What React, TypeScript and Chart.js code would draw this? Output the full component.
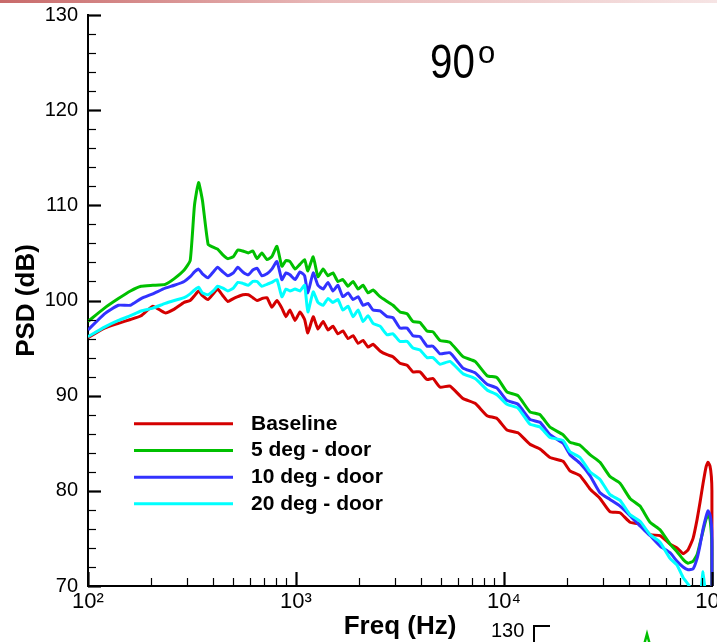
import React, { useEffect, useRef } from 'react';
import { Chart, registerables } from 'chart.js';

Chart.register(...registerables);

// ---------- data ----------
const freqHz = [
  100, 120, 140, 160, 180, 205, 235, 260, 290, 310,
  325, 340, 355, 378, 400, 420, 445, 470, 500, 525,
  555, 590, 620, 650, 685, 725, 765, 810, 855, 895,
  935, 990, 1045, 1100, 1140, 1210, 1275, 1350, 1425, 1505,
  1590, 1680, 1780, 1880, 1990, 2100, 2220, 2345, 2535, 2740,
  2925, 3160, 3420, 3650, 3945, 4265, 4555, 4925, 5500, 6350,
  7260, 8290, 9250, 10330, 11670, 13330, 14900, 16640, 19220, 20760,
  23190, 25900, 28940, 32330, 36120, 40350, 45080, 50360, 56260, 62840,
  67900, 72600, 76700, 81100, 84800, 87600, 90600, 93600, 95700, 97800,
  99300, 99900, 100000,
];

const baselineDb = [
  96.1, 97.1, 97.6, 98.0, 98.4, 99.4, 98.7, 99.1, 99.8, 100.0,
  100.5, 101.0, 100.5, 100.1, 100.7, 101.2, 100.5, 99.9, 100.2, 100.4,
  100.6, 100.6, 100.3, 100.0, 100.2, 100.3, 99.3, 100.0, 99.2, 98.3,
  99.0, 97.9, 98.8, 98.0, 96.6, 98.3, 97.0, 97.8, 96.9, 97.3,
  96.5, 96.8, 96.0, 96.3, 95.5, 95.8, 95.1, 95.4, 94.7, 94.3,
  94.1, 93.4, 93.2, 92.5, 92.5, 91.7, 91.8, 90.9, 91.0, 89.7,
  89.2, 87.9, 87.6, 86.4, 86.1, 84.9, 84.4, 83.5, 83.1, 82.1,
  81.6, 80.2, 79.2, 77.8, 77.7, 76.7, 76.5, 75.4, 75.3, 74.4,
  74.0, 73.4, 73.8, 75.0, 77.0, 78.8, 80.8, 82.5, 83.0, 82.6,
  81.5, 80.0, 60.0,
];

const deg5Db = [
  97.8, 99.2, 100.2, 101.0, 101.5, 101.6, 101.7, 102.3, 103.2, 104.2,
  110.0, 112.4, 110.5, 105.9, 105.6, 105.4, 104.8, 104.4, 104.6, 105.3,
  105.2, 105.0, 105.2, 104.4, 105.0, 104.3, 104.6, 105.7, 103.6, 104.2,
  104.1, 103.3, 103.8, 104.3, 103.1, 104.6, 102.5, 103.3, 102.6, 102.9,
  102.0, 102.2, 101.5, 102.0, 101.2, 101.6, 100.8, 101.1, 100.4, 99.9,
  99.5, 98.8, 98.6, 97.8, 97.7, 96.8, 96.7, 95.8, 95.6, 94.1,
  93.6, 92.1, 91.9, 90.4, 90.0, 88.3, 88.0, 86.7, 85.9, 85.1,
  84.8, 83.8, 83.0, 81.5, 80.8, 79.2, 78.4, 76.7, 75.9, 74.4,
  73.6, 72.8, 72.4, 72.6, 73.3, 74.5, 75.8, 77.0, 77.5, 77.0,
  75.5, 74.0, 60.0,
];

const deg10Db = [
  96.9, 98.6, 99.5, 99.5, 100.2, 100.7, 101.3, 101.6, 102.0, 102.5,
  103.0, 103.3, 102.8, 102.4, 103.0, 103.5, 103.0, 102.6, 102.9, 103.5,
  103.0, 102.7, 103.2, 103.4, 102.6, 102.8, 103.3, 104.1, 102.2, 102.9,
  102.7, 102.2, 103.0, 102.6, 100.8, 102.9, 101.6, 101.2, 101.9, 101.0,
  101.6, 100.4, 100.8, 100.1, 100.4, 99.5, 99.7, 99.0, 98.9, 98.3,
  98.2, 97.1, 97.1, 96.3, 96.2, 95.2, 95.2, 94.4, 94.5, 92.9,
  92.4, 91.2, 90.8, 89.5, 89.1, 87.5, 87.2, 85.9, 85.0, 83.8,
  82.9, 81.6, 79.8, 79.1, 78.4, 77.4, 76.3, 75.3, 74.2, 73.5,
  72.6, 72.0, 71.7, 71.8, 72.9, 74.3, 76.0, 77.3, 77.9, 77.5,
  76.5, 75.0, 60.0,
];

const deg20Db = [
  96.2, 97.2, 97.9, 98.4, 98.9, 99.2, 99.7, 100.0, 100.3, 100.7,
  101.1, 101.4, 100.8, 100.6, 101.0, 101.5, 101.3, 101.0, 101.3, 101.9,
  101.8, 101.6, 102.0, 102.0, 101.5, 101.7, 101.9, 102.2, 100.4, 101.2,
  101.0, 101.2, 101.0, 101.6, 98.8, 100.9, 99.8, 99.5, 100.2, 99.8,
  100.1, 99.0, 99.4, 98.3, 99.0, 97.8, 98.4, 97.6, 97.3, 96.4,
  96.5, 95.7, 95.7, 95.0, 94.8, 94.0, 94.0, 93.3, 93.6, 92.3,
  91.8, 90.6, 90.1, 89.1, 88.7, 87.0, 86.7, 85.6, 85.3, 84.1,
  83.5, 82.0, 81.2, 79.6, 79.0, 77.5, 76.8, 75.4, 74.6, 72.9,
  72.2, 70.9, 70.2, 69.3, 68.8, 68.6, 71.5, 68.5, 67.5, 67.5,
  67.5, 67.5, 60.0,
];

const seriesNames = ['Baseline', '5 deg - door', '10 deg - door', '20 deg - door'];
const seriesColors = ['#d40000', '#00c000', '#3232ff', '#00ffff'];
const seriesDrawOrder = [4, 3, 2, 1];

const yMin = 70;
const yMax = 130;
const yMajorStep = 10;
const yMinorStep = 2;
const xMin = 100;
const xMax = 100000;
const xTickValues = [100, 1000, 10000, 100000];
const xTickLabels = ['10\u00B2', '10\u00B3', '10\u2074', '10\u2075'];

const FONT = "'Liberation Sans', Arial, Helvetica, sans-serif";

const decorPlugin = {
  id: 'decor',
  afterDraw(chart: any) {
    const { ctx, chartArea, scales } = chart;
    const x = scales.x;
    const y = scales.y;
    ctx.save();
    ctx.strokeStyle = '#000';
    // inward y ticks
    for (let v = yMin; v <= yMax; v += yMinorStep) {
      const py = Math.round(y.getPixelForValue(v)) + 0.5;
      const major = v % yMajorStep === 0;
      ctx.lineWidth = major ? 2.2 : 1.2;
      ctx.beginPath();
      ctx.moveTo(chartArea.left, py);
      ctx.lineTo(chartArea.left + (major ? 13 : 8), py);
      ctx.stroke();
    }
    // inward x ticks
    for (let d = xMin; d <= xMax; d *= 10) {
      for (let m = 1; m <= 9; m++) {
        const v = d * m;
        if (v > xMax) break;
        const px = Math.round(x.getPixelForValue(v)) + 0.5;
        const major = m === 1;
        ctx.lineWidth = major ? 2.2 : 1.2;
        ctx.beginPath();
        ctx.moveTo(px, chartArea.bottom);
        ctx.lineTo(px, chartArea.bottom - (major ? 14 : 8));
        ctx.stroke();
      }
    }
    // legend
    ctx.font = `bold 21px ${FONT}`;
    ctx.textBaseline = 'middle';
    ctx.textAlign = 'left';
    const legTop = y.getPixelForValue(87.05);
    const legStep = 26.7;
    seriesNames.forEach((name, i) => {
      const ly = legTop + i * legStep;
      ctx.strokeStyle = seriesColors[i];
      ctx.lineWidth = 3;
      ctx.beginPath();
      ctx.moveTo(134, ly);
      ctx.lineTo(233, ly);
      ctx.stroke();
      ctx.fillStyle = '#000';
      ctx.fillText(name, 251, ly);
    });
    // title 90º
    ctx.fillStyle = '#000';
    ctx.textBaseline = 'alphabetic';
    ctx.save();
    ctx.translate(430, 78);
    ctx.scale(0.84, 1);
    ctx.font = `48px ${FONT}`;
    ctx.fillText('90', 0, 0);
    ctx.restore();
    ctx.font = `31px ${FONT}`;
    ctx.fillText('o', 478, 63);
    // partial neighbouring chart at the bottom
    ctx.font = `20px ${FONT}`;
    ctx.fillText('130', 491, 637);
    ctx.strokeStyle = '#000';
    ctx.lineWidth = 2;
    ctx.beginPath();
    ctx.moveTo(534, 645);
    ctx.lineTo(534, 626);
    ctx.lineTo(550, 626);
    ctx.stroke();
    ctx.strokeStyle = '#00c000';
    ctx.lineWidth = 2.5;
    ctx.beginPath();
    ctx.moveTo(644, 645);
    ctx.lineTo(647, 634);
    ctx.lineTo(650, 645);
    ctx.stroke();
    ctx.restore();
  },
};

export default function App() {
  const canvasRef = useRef<HTMLCanvasElement | null>(null);

  useEffect(() => {
    const canvas = canvasRef.current;
    if (!canvas) return;
    const allSeries = [baselineDb, deg5Db, deg10Db, deg20Db];
    const chart = new Chart(canvas, {
      type: 'line',
      data: {
        datasets: allSeries.map((vals, i) => ({
          label: seriesNames[i],
          data: freqHz.map((f, k) => ({ x: f, y: vals[k] })),
          borderColor: seriesColors[i],
          backgroundColor: seriesColors[i],
          borderWidth: 3,
          pointRadius: 0,
          tension: 0.15,
          fill: false,
          order: seriesDrawOrder[i],
          clip: { left: 0, top: 0, right: 3, bottom: 0 },
        })),
      },
      options: {
        animation: false,
        responsive: false,
        devicePixelRatio: 1,
        layout: { padding: { left: 0, right: 88, top: 15, bottom: 0 } },
        plugins: {
          legend: { display: false },
          tooltip: { enabled: false },
          title: { display: false },
        },
        scales: {
          x: {
            type: 'logarithmic',
            min: xMin,
            max: xMax,
            afterFit: (s: any) => {
              s.height = 56;
              s.paddingLeft = 0;
              s.paddingRight = 0;
            },
            afterBuildTicks: (s: any) => { s.ticks = xTickValues.map((v) => ({ value: v })); },
            grid: { display: false, drawTicks: false },
            border: { display: true, color: '#000', width: 2 },
            ticks: {
              autoSkip: false,
              maxRotation: 0,
              padding: 3,
              color: '#000',
              font: { family: FONT, size: 22 },
              callback: (v: any) => {
                const idx = xTickValues.indexOf(Number(v));
                return idx >= 0 ? xTickLabels[idx] : '';
              },
            },
            title: {
              display: true,
              text: 'Freq (Hz)',
              color: '#000',
              font: { family: FONT, size: 26, weight: 'bold' },
              padding: { top: 0, bottom: 0 },
            },
          },
          y: {
            type: 'linear',
            min: yMin,
            max: yMax,
            afterFit: (s: any) => {
              s.width = 88;
              s.paddingTop = 0;
              s.paddingBottom = 0;
            },
            grid: { display: false, drawTicks: false },
            border: { display: true, color: '#000', width: 2 },
            ticks: {
              stepSize: yMajorStep,
              padding: 10,
              color: '#000',
              font: { family: FONT, size: 20 },
            },
            title: {
              display: true,
              text: 'PSD (dB)',
              color: '#000',
              font: { family: FONT, size: 26, weight: 'bold' },
              padding: { top: 11, bottom: 0 },
            },
          },
        },
      },
      plugins: [decorPlugin],
    } as any);
    return () => chart.destroy();
  }, []);

  return (
    <div
      style={{
        position: 'fixed',
        left: 0,
        top: 0,
        width: 717,
        height: 642,
        overflow: 'hidden',
        background: '#fff',
      }}
    >
      <canvas
        ref={canvasRef}
        width={800}
        height={642}
        style={{ position: 'absolute', left: 0, top: 0, width: 800, height: 642 }}
      />
      <div
        style={{
          position: 'absolute',
          left: 0,
          top: 0,
          width: 717,
          height: 3,
          background: 'linear-gradient(to right, #c86a6a, #e8b8b8 45%, #f6e4e4)',
        }}
      />
    </div>
  );
}
